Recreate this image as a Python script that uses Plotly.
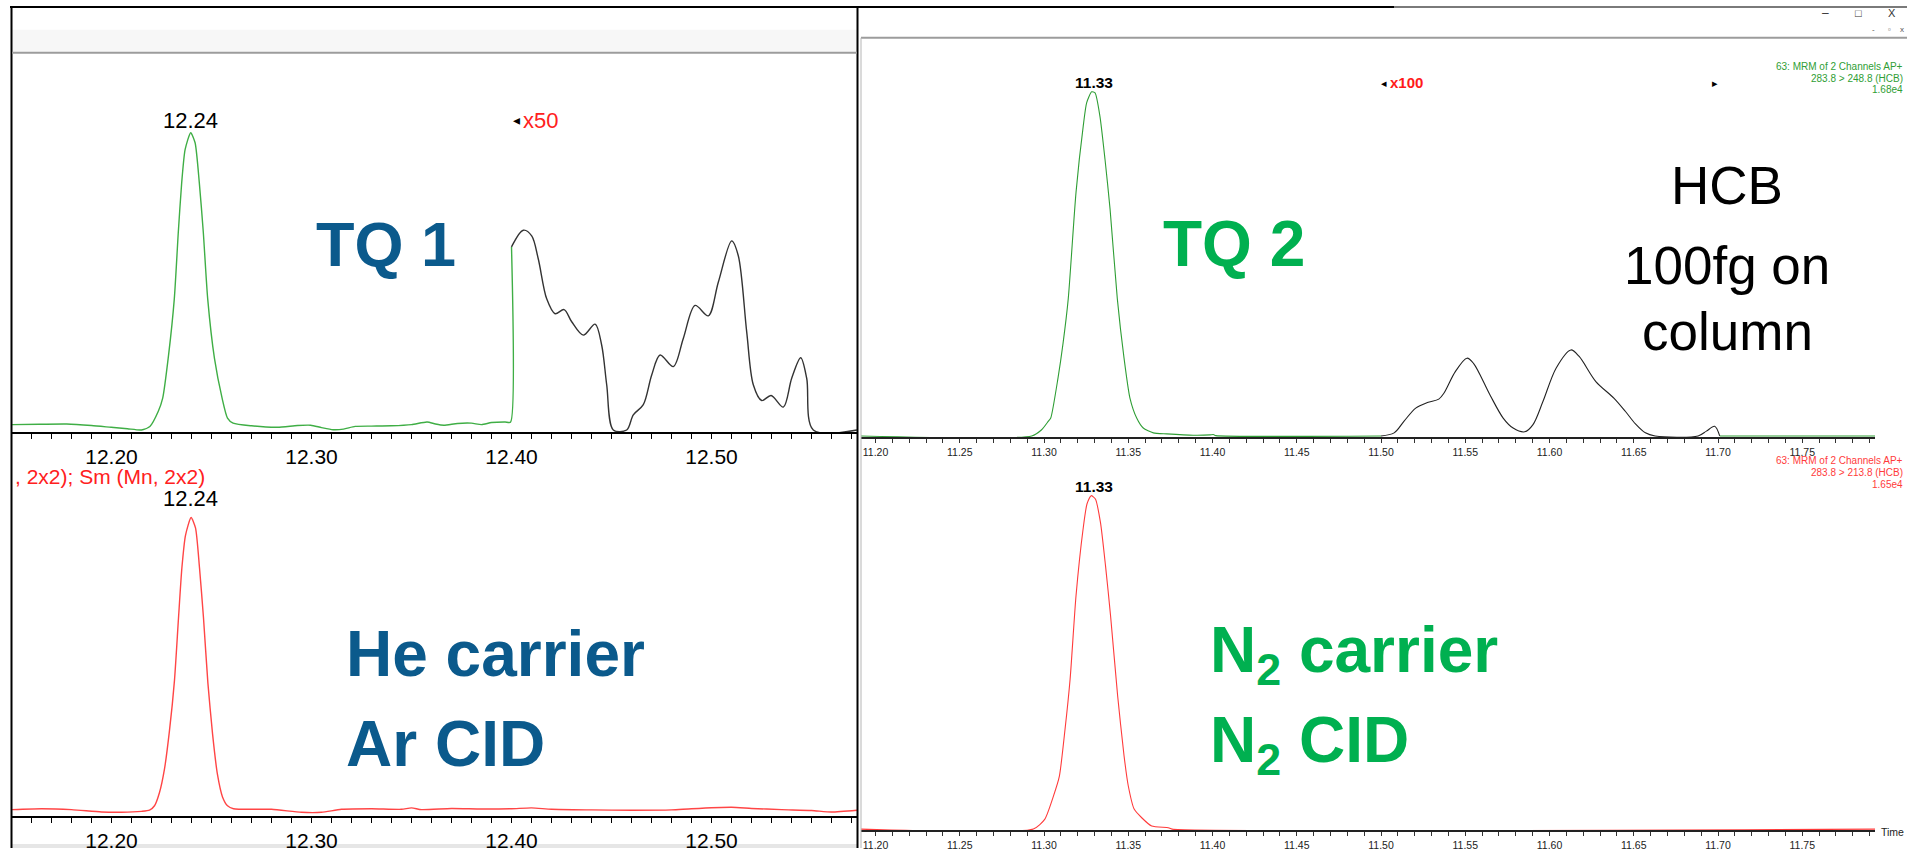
import plotly.graph_objects as go

W, H = 1907, 852

# ---------------- data (display % of full scale) ----------------
# TQ1, top trace (green), He carrier
tq1_top_t = [12.1503, 12.1640, 12.1776, 12.1900, 12.1998, 12.2080, 12.2150, 12.2192, 12.2234, 12.2256,
             12.2285, 12.2314, 12.2334, 12.2351, 12.2368, 12.2396, 12.2418, 12.2439, 12.2459, 12.2481,
             12.2515, 12.2553, 12.2580, 12.2608, 12.2700, 12.2830, 12.2930, 12.2996, 12.3050, 12.3108,
             12.3160, 12.3218, 12.3300, 12.3400, 12.3500, 12.3578, 12.3620, 12.3662, 12.3730, 12.3800,
             12.3850, 12.3900, 12.3968, 12.3995, 12.4000]
tq1_top_y = [1.8, 1.9, 2.0, 1.5, 0.9, 0.4, 0.0, 1.2, 6.3, 10.7,
             25.0, 44.1, 66.5, 83.2, 94.3, 100.0, 96.6, 83.2, 66.5, 44.1,
             24.0, 10.7, 4.0, 2.3, 1.4, 0.9, 1.5, 1.6, 0.8, 0.1,
             0.3, 1.2, 1.3, 1.4, 1.8, 2.7, 2.0, 1.6, 2.2, 2.3,
             1.8, 2.5, 2.7, 2.6, 61.6]
# TQ1, x50 expanded part (black)
tq1_x50_t = [12.4000, 12.4059, 12.4101, 12.4134, 12.4176, 12.4218, 12.4263, 12.4301, 12.4359, 12.4418,
             12.4451, 12.4476, 12.4509, 12.4576, 12.4609, 12.4659, 12.4701, 12.4743, 12.4809, 12.4859,
             12.4918, 12.4984, 12.5034, 12.5101, 12.5134, 12.5176, 12.5209, 12.5251, 12.5298, 12.5359,
             12.5401, 12.5446, 12.5476, 12.5509, 12.5727]
tq1_x50_y = [61.6, 67.2, 65.3, 57.5, 44.1, 39.1, 40.5, 36.4, 31.9, 35.6,
             28.5, 15.2, 0.0, 0.0, 5.1, 8.5, 18.5, 25.2, 21.3, 30.8,
             41.9, 38.4, 49.7, 63.6, 58.6, 33.0, 15.2, 9.9, 11.6, 7.7,
             17.4, 24.3, 17.4, 0.0, 0.0]
# TQ1, bottom trace (red)
tq1_bot_t = [12.1503, 12.1650, 12.1800, 12.1950, 12.2050, 12.2150, 12.2190, 12.2215, 12.2240, 12.2265,
             12.2290, 12.2315, 12.2335, 12.2352, 12.2370, 12.2398, 12.2420, 12.2440, 12.2460, 12.2482,
             12.2505, 12.2530, 12.2555, 12.2580, 12.2610, 12.2800, 12.2950, 12.3050, 12.3150, 12.3300,
             12.3450, 12.3500, 12.3550, 12.3700, 12.3850, 12.4000, 12.4100, 12.4200, 12.4400, 12.4600,
             12.4800, 12.4900, 12.5100, 12.5200, 12.5350, 12.5500, 12.5600, 12.5727]
tq1_bot_y = [1.2, 1.5, 1.2, 0.4, 0.3, 0.6, 1.0, 2.5, 7.0, 15.0,
             28.0, 45.0, 66.0, 83.0, 94.0, 100.0, 96.5, 83.0, 66.0, 44.0,
             27.0, 13.0, 5.5, 2.5, 1.5, 1.3, 0.3, 0.3, 1.3, 1.5,
             1.3, 1.8, 1.2, 1.6, 1.4, 1.5, 1.8, 1.3, 1.1, 1.0,
             1.1, 1.5, 2.0, 1.6, 1.2, 0.9, 0.4, 1.0]

# TQ2, top trace (green), N2 carrier
tq2_top_t = [11.1914, 11.2927, 11.2986, 11.3026, 11.3040, 11.3083, 11.3113, 11.3144, 11.3190, 11.3233,
             11.3253, 11.3283, 11.3303, 11.3332, 11.3362, 11.3392, 11.3435, 11.3475, 11.3510, 11.3550,
             11.3589, 11.3649, 11.3728, 11.3886, 11.3985, 11.4005, 11.4020, 11.5000, None, 11.7010, 11.7932]
tq2_top_y = [0.0, 0.0, 1.8, 4.3, 5.2, 16.8, 26.9, 39.9, 70.8, 90.1,
             96.8, 100.0, 99.7, 92.9, 80.4, 66.0, 39.9, 22.6, 11.0, 5.2,
             2.3, 0.9, 0.6, 0.2, 0.3, 0.4, 0.1, 0.0, None, 0.0, 0.0]
# TQ2, x100 expanded part (black)
tq2_x100_t = [11.5000, 11.5078, 11.5137, 11.5206, 11.5275, 11.5343, 11.5373, 11.5441, 11.5510, 11.5549,
              11.5647, 11.5725, 11.5784, 11.5853, 11.5902, 11.5961, 11.6039, 11.6127, 11.6176, 11.6275,
              11.6382, 11.6451, 11.6510, 11.6569, 11.6627, 11.6882, 11.6931, 11.6980, 11.7010]
tq2_x100_y = [0.0, 0.9, 4.3, 8.1, 9.7, 10.7, 12.4, 18.7, 22.6, 21.1,
              11.9, 5.2, 2.3, 1.2, 3.3, 10.0, 19.7, 25.0, 23.1, 15.8,
              11.0, 7.1, 3.5, 0.9, 0.0, 0.0, 1.4, 2.8, 0.0]
# TQ2, bottom trace (red)
tq2_bot_t = [11.1914, 11.2937, 11.3004, 11.3056, 11.3091, 11.3125, 11.3155, 11.3190, 11.3232, 11.3255,
             11.3280, 11.3305, 11.3335, 11.3365, 11.3395, 11.3437, 11.3475, 11.3500, 11.3535, 11.3580,
             11.3639, 11.3738, 11.3760, 11.7932]
tq2_bot_y = [0.0, 0.0, 2.9, 9.9, 15.8, 30.0, 45.0, 70.0, 90.0, 97.5,
             100.0, 99.0, 92.0, 79.0, 64.0, 40.0, 22.0, 13.0, 6.0, 3.4,
             0.9, 0.4, 0.0, 0.0]

tq1_labels = ["12.24", "12.24"]
tq2_labels = ["11.33", "11.33"]
tq2_top_info = ["63: MRM of 2 Channels AP+", "283.8 > 248.8 (HCB)", "1.68e4"]
tq2_bot_info = ["63: MRM of 2 Channels AP+", "283.8 > 213.8 (HCB)", "1.65e4"]

# ---------------- helpers ----------------
def px(x):
    return x / W

def py(y):
    return 1 - y / H

ARIAL = "Liberation Sans, Arial, sans-serif"
NARROW = "Liberation Sans Narrow, Arial Narrow, Liberation Sans, Arial, sans-serif"
BLUE = "#0b5a8c"
GREEN_TXT = "#00b050"

fig = go.Figure()
spl = dict(shape="spline", smoothing=0.9)
fig.add_trace(go.Scatter(x=tq1_top_t, y=tq1_top_y, mode="lines", xaxis="x", yaxis="y",
                         line=dict(color="#3fae45", width=1.4, shape="spline", smoothing=0.6), hoverinfo="skip"))
fig.add_trace(go.Scatter(x=tq1_x50_t, y=tq1_x50_y, mode="lines", xaxis="x", yaxis="y",
                         line=dict(color="#333333", width=1.4, **spl), hoverinfo="skip"))
fig.add_trace(go.Scatter(x=tq1_bot_t, y=tq1_bot_y, mode="lines", xaxis="x3", yaxis="y3",
                         line=dict(color="#ff4545", width=1.4, shape="spline", smoothing=0.6), hoverinfo="skip"))
fig.add_trace(go.Scatter(x=tq2_top_t, y=tq2_top_y, mode="lines", xaxis="x2", yaxis="y2",
                         line=dict(color="#2f9e35", width=1.1, shape="spline", smoothing=0.6), hoverinfo="skip"))
fig.add_trace(go.Scatter(x=tq2_x100_t, y=tq2_x100_y, mode="lines", xaxis="x2", yaxis="y2",
                         line=dict(color="#222222", width=1.1, **spl), hoverinfo="skip"))
fig.add_trace(go.Scatter(x=tq2_bot_t, y=tq2_bot_y, mode="lines", xaxis="x4", yaxis="y4",
                         line=dict(color="#ff3b3b", width=1.1, shape="spline", smoothing=0.6), hoverinfo="skip"))

# axis geometry (pixels)
L_X0, L_X1 = 12, 857
R_X0, R_X1 = 861, 1875
left_range = [12.20 - (111.5 - L_X0) / 2000, 12.20 + (L_X1 - 111.5) / 2000]
right_range = [11.20 - (875.5 - R_X0) / 1685, 11.20 + (R_X1 - 875.5) / 1685]

def left_x(anchor):
    return dict(domain=[px(L_X0), px(L_X1)], range=left_range, anchor=anchor,
                showline=True, linecolor="black", linewidth=2, showgrid=False, zeroline=False,
                ticks="outside", ticklen=5, tickwidth=1, tickcolor="black",
                tick0=12.2, dtick=0.1, tickformat=".2f",
                minor=dict(dtick=0.01, ticks="outside", ticklen=5, tickcolor="black", tickwidth=1),
                tickfont=dict(family=ARIAL, size=21, color="black"), fixedrange=True)

def right_x(anchor):
    return dict(domain=[px(R_X0), px(R_X1)], range=right_range, anchor=anchor,
                showline=True, linecolor="#222222", linewidth=1.5, showgrid=False, zeroline=False,
                ticks="outside", ticklen=4, tickwidth=1, tickcolor="#333333",
                tick0=11.2, dtick=0.05, tickformat=".2f",
                minor=dict(dtick=0.01, ticks="outside", ticklen=4, tickcolor="#333333", tickwidth=1),
                tickfont=dict(family=NARROW, size=10.5, color="#222222"), fixedrange=True)

def yax(bottom_px, top_px, base_px, apex_px, anchor):
    s = (base_px - apex_px) / 100.0
    lo = -(bottom_px - base_px) / s
    hi = 100 + (apex_px - top_px) / s
    return dict(domain=[py(bottom_px), py(top_px)], range=[lo, hi], anchor=anchor,
                visible=False, fixedrange=True)

fig.update_layout(
    width=W, height=H, margin=dict(l=0, r=0, t=0, b=0),
    paper_bgcolor="white", plot_bgcolor="rgba(0,0,0,0)", showlegend=False,
    xaxis=left_x("y"), yaxis=yax(434, 60, 432, 133.3, "x"),
    xaxis3=left_x("y3"), yaxis3=yax(820, 460, 817, 520, "x3"),
    xaxis2=right_x("y2"), yaxis2=yax(439.3, 45, 438, 92.3, "x2"),
    xaxis4=right_x("y4"), yaxis4=yax(834.3, 455, 833, 498, "x4"),
)

shapes = []
def hline(x0, x1, y, color, w):
    shapes.append(dict(type="line", xref="paper", yref="paper", x0=px(x0), x1=px(x1), y0=py(y), y1=py(y),
                       line=dict(color=color, width=w), layer="above"))
def vline(x, y0, y1, color, w):
    shapes.append(dict(type="line", xref="paper", yref="paper", x0=px(x), x1=px(x), y0=py(y0), y1=py(y1),
                       line=dict(color=color, width=w), layer="above"))
def rect(x0, y0, x1, y1, fill):
    shapes.append(dict(type="rect", xref="paper", yref="paper", x0=px(x0), x1=px(x1), y0=py(y1), y1=py(y0),
                       fillcolor=fill, line=dict(width=0), layer="below"))

rect(12, 30, 857, 52, "#f7f7f7")
rect(12, 848, 857, 852, "#e6e6e6")
hline(10, 1394, 7, "black", 2)
hline(1394, 1907, 7, "#7a7a7a", 2)
vline(11.5, 7, 852, "black", 2)
vline(857.5, 7, 852, "black", 2)
hline(12, 857, 53, "#9c9c9c", 2)
hline(861, 1907, 38, "#9c9c9c", 2)
vline(861, 38, 852, "#b5b5b5", 1)
fig.update_layout(shapes=shapes)

ann = []
def text(x, y, s, size, color="black", family=ARIAL, xanchor="center", yanchor="middle", bold=False):
    if bold:
        s = "<b>" + s + "</b>"
    ann.append(dict(xref="paper", yref="paper", x=px(x), y=py(y), text=s, showarrow=False,
                    xanchor=xanchor, yanchor=yanchor, font=dict(family=family, size=size, color=color)))

# peak labels
text(190, 121, tq1_labels[0], 22)
text(190, 501, tq1_labels[1], 22)
text(1094, 83, tq2_labels[0], 15.5, family=NARROW, bold=True)
text(1094, 489, tq2_labels[1], 15.5, family=NARROW, bold=True)
# magnification markers
text(516, 121, "◂", 14)
text(521, 121, "x50", 22, color="#ff2020", xanchor="left")
text(1384, 83, "◂", 11)
text(1388, 83, "x100", 15, color="#ff1a1a", family=NARROW, xanchor="left", bold=True)
text(1715, 83, "▸", 11)
# left bottom header text
text(13, 479, ", 2x2); Sm (Mn, 2x2)", 21, color="#ff2020", xanchor="left")
# info texts right
for i, s in enumerate(tq2_top_info):
    text(1905, [67, 79, 90][i], s, 10, color="#2f9e35", family=NARROW, xanchor="right")
for i, s in enumerate(tq2_bot_info):
    text(1905, [463, 475, 487][i], s, 10, color="#ff3b3b", family=NARROW, xanchor="right")
text(1879, 836, "Time", 10.5, color="#222222", family=NARROW, xanchor="left")
# window controls
text(1825, 13, "–", 12, color="#333333")
text(1858, 13, "□", 11, color="#333333")
text(1892, 13, "X", 11, color="#333333")
text(1873, 30, "-", 8, color="#555555")
text(1889, 30, "▫", 8, color="#555555")
text(1902, 30, "x", 8, color="#555555")
# big labels
text(385.5, 245, "TQ 1", 63, color=BLUE, bold=True)
text(1234, 245, "TQ 2", 64, color=GREEN_TXT, bold=True)
text(344, 657, "He carrier", 64, color=BLUE, xanchor="left", bold=True)
text(344, 748, "Ar CID", 64, color=BLUE, xanchor="left", bold=True)
text(1208, 657, "N<sub>2</sub> carrier", 64, color=GREEN_TXT, xanchor="left", bold=True)
text(1208, 748, "N<sub>2</sub> CID", 64, color=GREEN_TXT, xanchor="left", bold=True)
text(1727, 186, "HCB", 53)
text(1727, 267, "100fg on", 53)
text(1727, 333, "column", 53)
fig.update_layout(annotations=ann)

fig.write_html("out.html", config={"displayModeBar": False})
